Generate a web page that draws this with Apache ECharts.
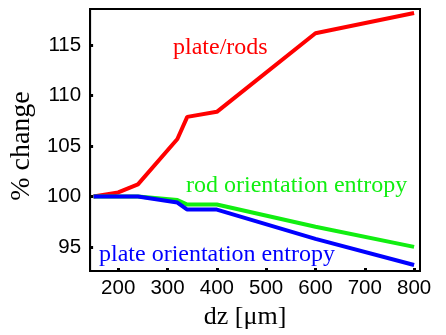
<!DOCTYPE html>
<html>
<head>
<meta charset="utf-8">
<script src="https://cdn.jsdelivr.net/npm/echarts@6/dist/echarts.min.js"></script>
<style>
  html, body { margin: 0; padding: 0; background: #fff; }
  #chart { width: 446px; height: 335px; }
</style>
</head>
<body>
<div id="chart"></div>
<script>
// dz in micrometres and % change for each measure
const dzValues = [150, 200, 240, 320, 340, 400, 600, 800];
const plateRods = [100, 100.4, 101.2, 105.7, 107.9, 108.4, 116.2, 118.2];
const rodEntropy = [100, 100, 100, 99.65, 99.2, 99.2, 97.0, 95.0];
const plateEntropy = [100, 100, 100, 99.4, 98.7, 98.7, 95.8, 93.2];
const xTicks = [200, 300, 400, 500, 600, 700, 800];
const yTicks = [95, 100, 105, 110, 115];

const pairs = (ys) => dzValues.map((x, i) => [x, ys[i]]);

const chart = echarts.init(document.getElementById('chart'));
const serif = '"Liberation Serif", "Times New Roman", serif';
const sans = '"Liberation Sans", Arial, sans-serif';

const line = (name, ys, color) => ({
  name: name,
  type: 'line',
  data: pairs(ys),
  symbol: 'none',
  animation: false,
  lineStyle: { color: color, width: 4 },
});

chart.setOption({
  animation: false,
  grid: {
    left: 89, right: 26, top: 9, bottom: 60,
    show: true, borderColor: '#000', borderWidth: 2,
  },
  xAxis: {
    type: 'value',
    min: 143, max: 812,
    name: 'dz [\u03bcm]',
    nameLocation: 'middle',
    nameGap: 32,
    nameTextStyle: { fontFamily: serif, fontSize: 26, color: '#000', padding: [0, 20, 0, 0] },
    axisLine: { show: true, lineStyle: { color: '#000', width: 2 } },
    axisTick: { show: true, inside: true, length: 3, customValues: xTicks, lineStyle: { color: '#000', width: 3 } },
    axisLabel: { customValues: xTicks, fontFamily: sans, fontSize: 20.5, color: '#000', margin: 7 },
    splitLine: { show: false },
  },
  yAxis: {
    type: 'value',
    min: 92.6, max: 118.6,
    name: '% change',
    nameLocation: 'middle',
    nameGap: 47,
    nameTextStyle: { fontFamily: serif, fontSize: 28, color: '#000', padding: [0, 12, 0, 0] },
    axisLine: { show: true, lineStyle: { color: '#000', width: 2 } },
    axisTick: { show: true, inside: true, length: 3, customValues: yTicks, lineStyle: { color: '#000', width: 3 } },
    axisLabel: { customValues: yTicks, fontFamily: sans, fontSize: 20.5, color: '#000', margin: 9 },
    splitLine: { show: false },
  },
  series: [
    line('plate/rods', plateRods, '#ff0000'),
    line('rod orientation entropy', rodEntropy, '#11ee11'),
    line('plate orientation entropy', plateEntropy, '#0000ff'),
  ],
  graphic: [
    { type: 'text', left: 173, top: 36, style: { text: 'plate/rods', fill: '#ff0000', font: '24px ' + serif } },
    { type: 'text', left: 186, top: 174, style: { text: 'rod orientation entropy', fill: '#11ee11', font: '24px ' + serif } },
    { type: 'text', left: 99, top: 243, style: { text: 'plate orientation entropy', fill: '#0000ff', font: '24px ' + serif } },
  ],
});
</script>
</body>
</html>
